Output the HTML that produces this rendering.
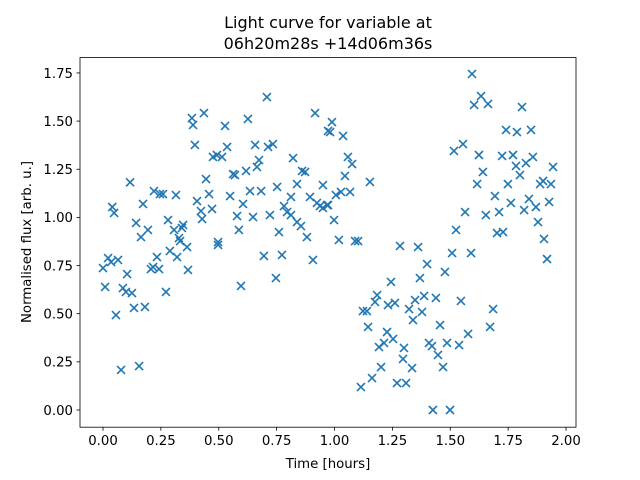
<!DOCTYPE html>
<html><head><meta charset="utf-8"><style>
body{margin:0;background:#fff;}
svg{display:block;font-family:"DejaVu Sans","Liberation Sans",sans-serif;}
</style></head><body>
<svg id="chart" width="640" height="480" viewBox="0 0 640 480">
<rect x="0" y="0" width="640" height="480" fill="#fff"/>
<text x="328" y="28" font-size="16" text-anchor="middle">Light curve for variable at</text>
<text x="328" y="49" font-size="16" text-anchor="middle">06h20m28s +14d06m36s</text>
<g id="points"></g>
<g id="xticks"></g>
<g id="yticks"></g>
<rect x="80" y="57.6" width="496" height="369.6" fill="none" stroke="#000" stroke-width="0.8"/>
<text x="328" y="468" font-size="13.3" text-anchor="middle">Time [hours]</text>
<text x="31" y="242" font-size="13.3" text-anchor="middle" transform="rotate(-90 31 242)">Normalised flux [arb. u.]</text>
</svg>
<script>
const timeHours=[0.040,0.048,0.117,0.143,0.164,0.194,0.173,0.220,0.246,0.259,0.315,0.281,0.307,0.328,0.346,0.341,0.384,0.389,0.436,0.397,0.406,0.423,0.428,0.445,0.458,0.471,0.497,0.527,0.475,0.492,0.514,0.536,0.562,0.570,0.549,0.579,0.587,0.605,0.626,0.618,0.635,0.648,0.657,0.665,0.674,0.683,0.708,0.713,0.734,0.721,0.752,0.760,0.782,0.795,0.812,0.812,0.821,0.838,0.838,0.855,0.860,0.873,0.881,0.894,0.916,0.924,0.937,0.950,0.950,0.972,0.972,
0.022,0.000,0.035,0.065,0.009,0.104,0.086,0.099,0.125,0.056,0.134,0.181,0.078,0.156,0.233,0.207,0.216,0.242,0.289,0.320,0.363,0.367,0.272,0.497,0.596,0.695,0.773,0.747,0.907,0.333,
0.989,0.981,1.037,1.058,1.076,1.045,1.153,1.006,1.028,1.067,0.968,0.998,1.019,1.089,1.102,1.594,1.633,1.603,1.663,1.810,1.741,1.788,1.849,1.516,1.555,1.624,1.724,1.771,1.857,1.784,1.827,1.944,1.641,1.616,1.801,1.749,1.888,1.901,1.935,1.693,1.762,1.840,1.819,1.870,1.927,1.564,1.654,1.711,1.879,1.525,1.702,1.728,1.905,
1.283,1.361,1.508,1.590,1.918,1.400,1.477,1.244,1.369,1.184,1.175,1.231,1.261,1.387,1.438,1.348,1.546,1.322,1.378,1.339,1.123,1.140,1.145,1.456,1.685,1.672,1.227,1.253,1.214,1.192,1.300,1.408,1.421,1.486,1.538,1.577,1.447,1.296,1.201,1.335,1.469,1.162,1.114,1.270,1.309,1.425,1.499];
const flux=[1.054,1.023,1.182,0.971,0.898,0.935,1.070,1.137,1.121,1.121,1.116,0.986,0.935,0.893,0.961,0.945,1.516,1.480,1.542,1.376,1.085,1.033,0.992,1.199,1.121,1.044,0.872,1.475,1.314,1.324,1.314,1.366,1.225,1.220,1.111,1.007,0.935,1.070,1.511,1.241,1.137,1.002,1.376,1.262,1.298,1.137,1.625,1.366,1.381,1.012,1.158,0.924,1.059,1.028,1.012,1.106,1.308,0.976,1.173,0.955,1.241,1.236,0.898,1.106,1.542,1.075,1.059,1.168,1.049,1.064,1.449,
0.789,0.737,0.768,0.779,0.639,0.706,0.633,0.613,0.607,0.493,0.530,0.535,0.208,0.228,0.794,0.732,0.742,0.732,0.826,0.794,0.846,0.727,0.613,0.857,0.644,0.800,0.805,0.685,0.779,0.877,
1.495,1.443,1.423,1.314,1.277,1.215,1.184,1.116,1.132,1.132,1.064,0.986,0.883,0.877,0.877,1.745,1.630,1.584,1.589,1.573,1.454,1.443,1.454,1.345,1.381,1.324,1.319,1.324,1.314,1.267,1.282,1.262,1.236,1.173,1.220,1.173,1.173,1.189,1.173,1.111,1.075,1.096,1.038,1.054,1.080,1.028,1.012,1.028,0.976,0.935,0.919,0.924,0.888,
0.852,0.846,0.815,0.815,0.784,0.758,0.717,0.665,0.685,0.597,0.561,0.545,0.556,0.592,0.582,0.571,0.566,0.524,0.509,0.467,0.514,0.514,0.431,0.441,0.524,0.431,0.405,0.369,0.348,0.327,0.322,0.348,0.332,0.348,0.337,0.395,0.286,0.265,0.223,0.218,0.223,0.166,0.119,0.140,0.140,0.000,0.000];
const xTickValues=[0,0.25,0.5,0.75,1,1.25,1.5,1.75,2];
const xTickLabels=["0.00","0.25","0.50","0.75","1.00","1.25","1.50","1.75","2.00"];
const yTickValues=[0,0.25,0.5,0.75,1,1.25,1.5,1.75];
const yTickLabels=["0.00","0.25","0.50","0.75","1.00","1.25","1.50","1.75"];

const NS="http://www.w3.org/2000/svg";
function xScale(v){return 103+v*231.5;}
function yScale(v){return 410-v*192.6;}
function mk(tag,attrs,parent){const e=document.createElementNS(NS,tag);for(const k in attrs)e.setAttribute(k,attrs[k]);parent.appendChild(e);return e;}

const pts=document.getElementById('points');
const n=Math.min(timeHours.length,flux.length);
for(let i=0;i<n;i++){
  const cx=xScale(timeHours[i]),cy=yScale(flux[i]),r=4;
  const p=mk('path',{d:`M${cx-r},${cy-r}L${cx+r},${cy+r}M${cx-r},${cy+r}L${cx+r},${cy-r}`,stroke:'#1f77b4','stroke-width':'1.6',fill:'none'},pts);
  
  
}
const xg=document.getElementById('xticks');
xTickValues.forEach((v,i)=>{
  const x=xScale(v);
  const t=mk('line',{x1:x,x2:x,y1:427.2,y2:430.7,stroke:'#000','stroke-width':'0.8'},xg);
  
  
  const l=mk('text',{x:x,y:445,'font-size':'13.3','text-anchor':'middle'},xg);
  l.textContent=xTickLabels[i];
  
  
});
const yg=document.getElementById('yticks');
yTickValues.forEach((v,i)=>{
  const y=yScale(v);
  const t=mk('line',{x1:76.5,x2:80,y1:y,y2:y,stroke:'#000','stroke-width':'0.8'},yg);
  
  
  const l=mk('text',{x:73,y:y+4.8,'font-size':'13.3','text-anchor':'end'},yg);
  l.textContent=yTickLabels[i];
  
  
});
</script>
</body></html>
